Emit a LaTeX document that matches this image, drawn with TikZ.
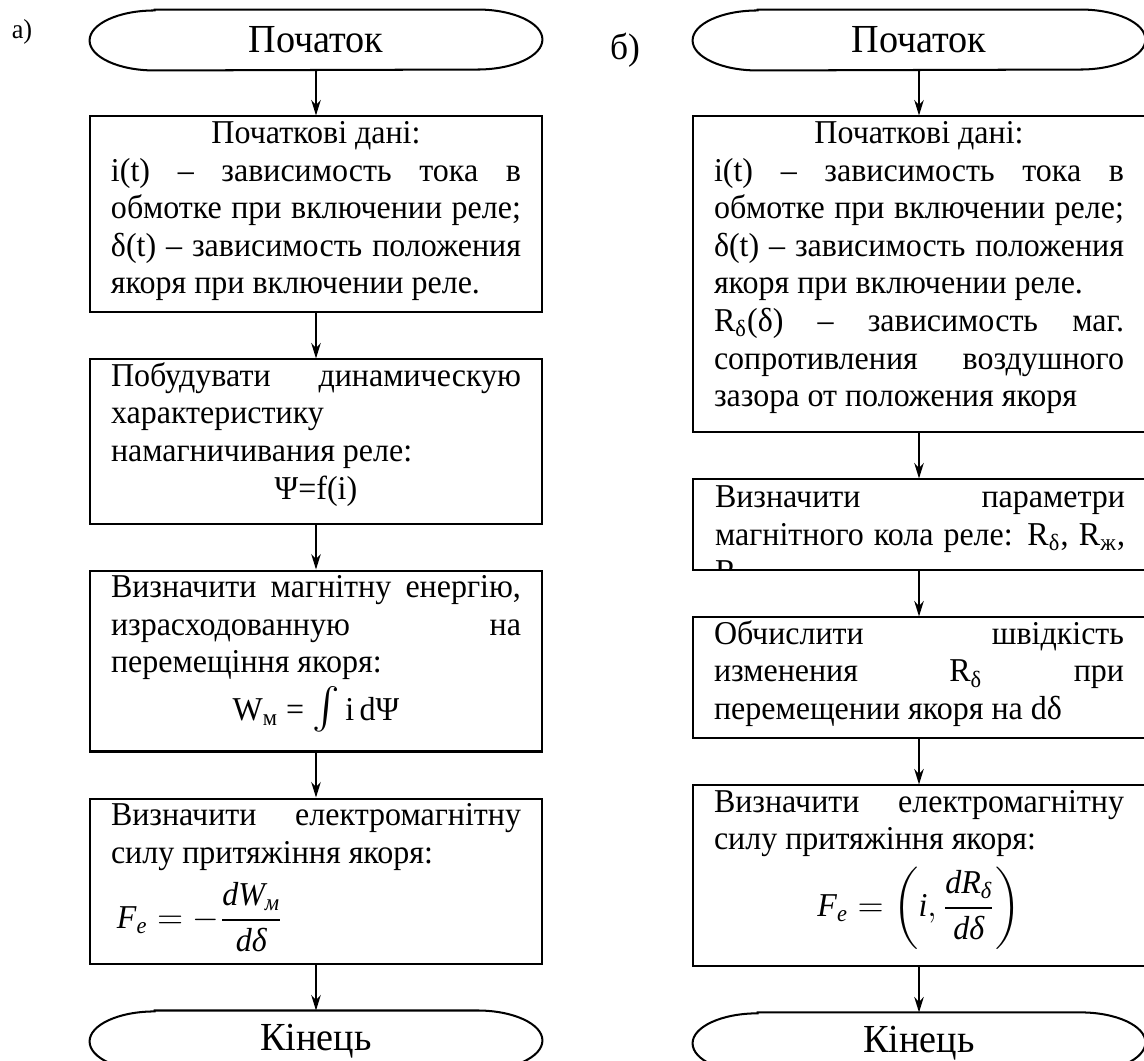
\documentclass[tikz,border=0pt]{standalone}
\usepackage{amsmath}
\usepackage{fontspec}
\setmainfont{Liberation Serif}[FakeStretch=0.96]
\usetikzlibrary{positioning, arrows.meta}

% justified line / centred line inside a box
\newcommand\jline[1]{{\spaceskip=0pt\xspaceskip=0pt\makebox[\linewidth][s]{#1}}}
\newcommand\midline[1]{\makebox[\linewidth]{#1}}

\begin{document}
\begin{tikzpicture}[
  x=0.42pt, y=-0.42pt,
  node distance=18.9pt,
  font=\fontsize{14}{15.8}\selectfont,
  term/.style={
    rectangle, minimum width=189.8pt, minimum height=25.2pt, inner sep=0pt,
    font=\fontsize{16.7}{18}\selectfont
  },
  box/.style={
    rectangle, draw, line width=0.85pt, text width=172.2pt,
    inner xsep=8.8pt, inner ysep=3pt, align=justify,
    text height=8.3pt, text depth=#1
  },
  arrow/.style={-{Stealth[length=6.5pt,width=4pt]}, line width=0.7pt}
]
  \useasboundingbox (0,0) rectangle (1144,1061);

  % labels
  \node (la) at (22,32) {\fontsize{11.5}{12}\selectfont а)};
  \node (lb) at (625,50) {\fontsize{15.5}{16}\selectfont б)};

  % left chart
  \node[term] (s1) at (316,40) {Початок};
  \node[box=68pt, below=of s1] (d1) {%
    \midline{Початкові дані:}\\
    \jline{i(t) – зависимость тока в}\\
    \jline{обмотке при включении реле;}\\
    \jline{δ(t) – зависимость положения}\\
    якоря при включении реле.};
  \node[box=54.6pt, below=of d1] (d2) {%
    \jline{Побудувати динамическую}\\
    характеристику\\
    намагничивания реле:\\
    \midline{Ψ=f(i)}};
  \node[box=61.7pt, below=of d2] (d3) {%
    \jline{Визначити магнітну енергію,}\\
    \jline{израсходованную на}\\
    перемещіння якоря:\\[2pt]
    \midline{W\textsubscript{м} = {\fontsize{17}{17}\selectfont$\int$}\,i\,dΨ}};
  \node[box=55.4pt, below=of d3] (d4) {%
    \jline{Визначити електромагнітну}\\
    силу притяжіння якоря:\\[4pt]
    \hspace*{2.5pt}$\textit{F}_{\textit{e}}=-\dfrac{\textit{dW}_{\textit{м}}}{\textit{dδ}}$};
  \node[term, below=of d4] (e1) {Кінець};

  % right chart
  \node[term] (s2) at (919,40) {Початок};
  \node[box=118.4pt, below=of s2] (r1) {%
    \midline{Початкові дані:}\\
    \jline{i(t) – зависимость тока в}\\
    \jline{обмотке при включении реле;}\\
    \jline{δ(t) – зависимость положения}\\
    якоря при включении реле.\\
    \jline{R\textsubscript{δ}(δ) – зависимость маг.}\\
    \jline{сопротивления воздушного}\\
    зазора от положения якоря};
  \node[box=23.9pt, below=of r1, path picture={
    \node[anchor=north west, text width=172.2pt, inner xsep=8.8pt, inner ysep=3pt,
          align=justify, text height=8.3pt, text depth=] (r2t)
      at (path picture bounding box.north west) {%
      \jline{Визначити параметри}\\
      \jline{магнітного кола реле: R\textsubscript{δ}, R\textsubscript{ж},}\\
      R\textsubscript{м}};
  }] (r2) {};
  \node[box=36.5pt, below=of r2] (r3) {%
    \jline{Обчислити швідкість}\\
    \jline{изменения R\textsubscript{δ} при}\\
    перемещении якоря на dδ};
  \node[box=61.7pt, below=of r3] (r4) {%
    \jline{Визначити електромагнітну}\\
    силу притяжіння якоря:\\[3pt]
    \midline{$\textit{F}_{\textit{e}}=\left(\textit{i},\dfrac{\textit{dR}_{\textit{δ}}}{\textit{dδ}}\right)$}};
  \node[term, below=of r4] (e2) {Кінець};

  % terminal outlines
  \foreach \t in {s1, e1, s2, e2}
    \draw[line width=0.85pt] ([xshift=27.3pt]\t.north west) -- ([xshift=-27.3pt]\t.north east)
      arc[start angle=90, end angle=-90, x radius=27.3pt, y radius=12.6pt]
      -- ([xshift=27.3pt]\t.south west)
      arc[start angle=270, end angle=90, x radius=27.3pt, y radius=12.6pt] -- cycle;

  \draw[arrow] (s1) -- (d1);
  \draw[arrow] (d1) -- (d2);
  \draw[arrow] (d2) -- (d3);
  \draw[arrow] (d3) -- (d4);
  \draw[arrow] (d4) -- (e1);
  \draw[arrow] (s2) -- (r1);
  \draw[arrow] (r1) -- (r2);
  \draw[arrow] (r2) -- (r3);
  \draw[arrow] (r3) -- (r4);
  \draw[arrow] (r4) -- (e2);
\end{tikzpicture}
\end{document}
